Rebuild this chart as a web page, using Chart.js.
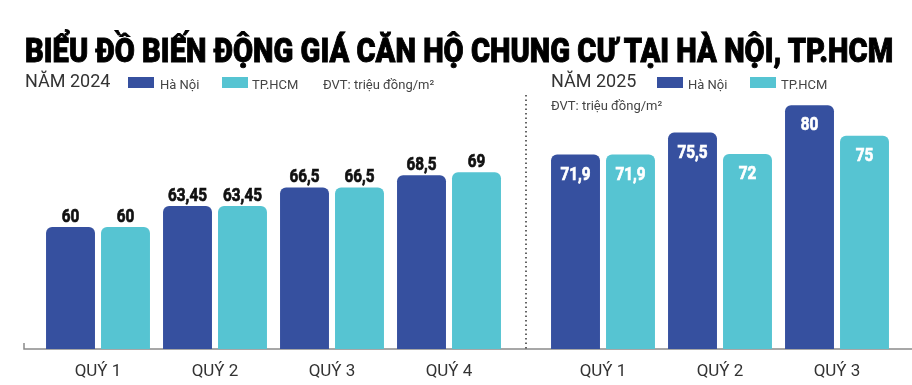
<!DOCTYPE html>
<html lang="vi">
<head>
  <meta charset="UTF-8" />
  <title>Biểu đồ biến động giá căn hộ chung cư</title>
  <script src="https://cdn.jsdelivr.net/npm/chart.js"></script>
  <style>
    body {
      margin: 0;
      background: #fff;
      font-family: Roboto, Arial, sans-serif;
      color: #333;
    }
    .wrap {
      position: relative;
      width: 912px;
      height: 385px;
      overflow: hidden;
    }
    canvas {
      position: absolute;
      left: 0;
      top: 0;
    }
    .t {
      position: absolute;
      white-space: nowrap;
    }
    #title {
      left: 25px;
      top: 34px;
      font-size: 33px;
      line-height: 33px;
      font-weight: 900;
      color: #000;
      -webkit-text-stroke: 0.9px #000;
      transform-origin: 0 0;
    }
    .year {
      font-size: 18px;
      line-height: 18px;
      font-weight: 400;
      color: #333;
    }
    .small {
      font-size: 13px;
      line-height: 13px;
      color: #444;
    }
    .box {
      position: absolute;
      width: 26px;
      height: 11px;
    }
  </style>
</head>
<body>
  <div class="wrap">
    <canvas id="left" width="912" height="400"></canvas>
    <canvas id="right" width="912" height="400"></canvas>

    <div class="t" id="title">BIỂU ĐỒ BIẾN ĐỘNG GIÁ CĂN HỘ CHUNG CƯ TẠI HÀ NỘI, TP.HCM</div>

    <div class="t year" style="left:25px; top:72px;">NĂM 2024</div>
    <div class="box" style="left:128px; top:77px; background:#36509f;"></div>
    <div class="t small" style="left:160px; top:78px;">Hà Nội</div>
    <div class="box" style="left:222px; top:77px; background:#56c4d2;"></div>
    <div class="t small" style="left:252px; top:78px;">TP.HCM</div>
    <div class="t small" style="left:323px; top:78px;">ĐVT: triệu đồng/m²</div>

    <div class="t year" style="left:551px; top:72px;">NĂM 2025</div>
    <div class="box" style="left:657px; top:77px; background:#36509f;"></div>
    <div class="t small" style="left:688px; top:78px;">Hà Nội</div>
    <div class="box" style="left:750px; top:77px; background:#56c4d2;"></div>
    <div class="t small" style="left:781px; top:78px;">TP.HCM</div>
    <div class="t small" style="left:551px; top:99px;">ĐVT: triệu đồng/m²</div>
  </div>

  <script>
    // data
    const quarters2024 = ['QUÝ 1', 'QUÝ 2', 'QUÝ 3', 'QUÝ 4'];
    const hanoi2024 = [60, 63.45, 66.5, 68.5];
    const hcm2024 = [60, 63.45, 66.5, 69];

    const quarters2025 = ['QUÝ 1', 'QUÝ 2', 'QUÝ 3'];
    const hanoi2025 = [71.9, 75.5, 80];
    const hcm2025 = [71.9, 72, 75];

    const seriesNames = ['Hà Nội', 'TP.HCM'];
    const colors = ['#36509f', '#56c4d2'];

    // fit title to the width
    const title = document.getElementById('title');
    title.style.transform = 'scaleX(' + (868 / title.scrollWidth) + ')';

    function fmt(v) {
      return String(v).replace('.', ',');
    }

    // value labels, condensed
    const valueLabels = {
      id: 'valueLabels',
      afterDatasetsDraw(chart, args, opts) {
        const ctx = chart.ctx;
        ctx.save();
        ctx.font = 'bold 18px Roboto, Arial, sans-serif';
        ctx.textAlign = 'center';
        ctx.textBaseline = 'alphabetic';
        ctx.lineWidth = 0.7;
        chart.data.datasets.forEach((ds, di) => {
          chart.getDatasetMeta(di).data.forEach((bar, i) => {
            ctx.save();
            if (opts.inside) {
              ctx.fillStyle = ctx.strokeStyle = '#fff';
              ctx.translate(bar.x, bar.y + 25);
            } else {
              ctx.fillStyle = ctx.strokeStyle = '#111';
              ctx.translate(bar.x, bar.y - 5);
            }
            ctx.scale(0.85, 1);
            ctx.fillText(fmt(ds.data[i]), 0, 0);
            ctx.strokeText(fmt(ds.data[i]), 0, 0);
            ctx.restore();
          });
        });
        ctx.restore();
      }
    };

    // baseline and separator
    const frame = {
      id: 'frame',
      beforeDatasetsDraw(chart, args, opts) {
        const ctx = chart.ctx;
        const y = chart.scales.y.getPixelForValue(chart.scales.y.min);
        ctx.save();
        if (opts.baseline) {
          ctx.strokeStyle = '#8a8a8a';
          ctx.lineWidth = 1.5;
          ctx.beginPath();
          ctx.moveTo(24, y - 6);
          ctx.lineTo(24, y);
          ctx.lineTo(912, y);
          ctx.stroke();
        }
        if (opts.separator) {
          const x = chart.chartArea.left - 18.5;
          ctx.strokeStyle = '#333';
          ctx.lineWidth = 1.5;
          ctx.setLineDash([1.5, 3]);
          ctx.beginPath();
          ctx.moveTo(x, 95);
          ctx.lineTo(x, y);
          ctx.stroke();
        }
        ctx.restore();
      }
    };

    function makeChart(id, labels, a, b, padding, opts) {
      return new Chart(document.getElementById(id), {
        type: 'bar',
        data: {
          labels: labels,
          datasets: [a, b].map((d, i) => ({
            label: seriesNames[i],
            data: d,
            backgroundColor: colors[i],
            borderRadius: 6,
            borderSkipped: false,
            categoryPercentage: 0.94,
            barPercentage: 0.89
          }))
        },
        options: {
          responsive: false,
          animation: false,
          devicePixelRatio: 1,
          layout: { padding: padding },
          plugins: {
            legend: { display: false },
            tooltip: { enabled: false },
            valueLabels: { inside: opts.inside },
            frame: { baseline: opts.baseline, separator: opts.separator }
          },
          scales: {
            x: {
              grid: { display: false, drawTicks: false },
              border: { display: false },
              ticks: {
                padding: 13,
                color: '#333',
                font: { family: 'Roboto, Arial, sans-serif', size: 17 }
              }
            },
            y: {
              display: false,
              min: 40,
              max: 82
            }
          }
        },
        plugins: [valueLabels, frame]
      });
    }

    makeChart('left', quarters2024, hanoi2024, hcm2024,
      { left: 39.5, right: 404.5, top: 93, bottom: 4.6 },
      { inside: false, baseline: true, separator: false });

    makeChart('right', quarters2025, hanoi2025, hcm2025,
      { left: 544.5, right: 16.5, top: 93, bottom: 4.6 },
      { inside: true, baseline: false, separator: true });
  </script>
</body>
</html>
